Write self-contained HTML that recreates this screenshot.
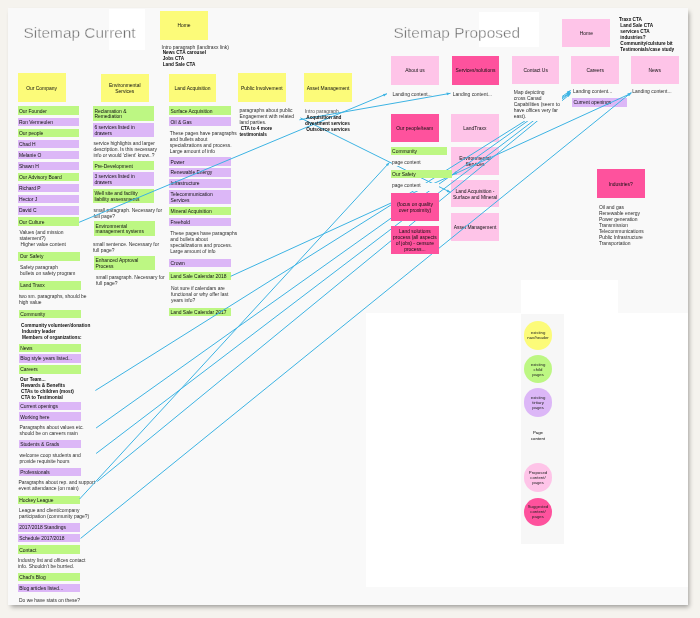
<!DOCTYPE html>
<html><head><meta charset="utf-8"><style>
html,body{margin:0;padding:0;}
body{width:700px;height:618px;background:#f5f3ee;position:relative;overflow:hidden;font-family:"Liberation Sans",sans-serif;}
#canvas{position:absolute;left:7.6px;top:7.7px;width:680px;height:597.8px;background:#f9f9f9;box-shadow:2px 2.5px 4.5px -1px rgba(0,0,0,0.36);overflow:hidden}
#inner{position:absolute;left:-7.6px;top:-7.7px;width:700px;height:618px;will-change:transform}
.b,.r,.t,.title,.circ{position:absolute;box-sizing:border-box;}
.b{display:flex;align-items:center;overflow:hidden;white-space:nowrap;}
.b span{position:relative;top:1px}
.b.c{justify-content:center;text-align:center;}
.t{white-space:nowrap;}
.title{font-size:15.4px;line-height:20px;color:#6a6a6a;white-space:nowrap;z-index:1;-webkit-text-stroke:0.4px #f9f9f9}
.circ{border-radius:50%;display:flex;align-items:center;justify-content:center;text-align:center;font-size:4.3px;line-height:5px;color:#222;z-index:2}
svg{position:absolute;left:0;top:0;z-index:2}
svg line{stroke:#3cb3e3;stroke-width:1}
svg polygon{fill:#3cb3e3}
</style></head><body>
<div id="canvas"><div id="inner">
<div class="r" style="left:109.0px;top:9.0px;width:36.0px;height:41.3px;background:#ffffff;z-index:0"></div>
<div class="r" style="left:479.3px;top:12.0px;width:60.1px;height:35.3px;background:#ffffff;z-index:0"></div>
<div class="r" style="left:520.6px;top:280.0px;width:97.8px;height:33.0px;background:#ffffff;z-index:0"></div>
<div class="r" style="left:365.7px;top:313.0px;width:322.3px;height:274.4px;background:#ffffff;z-index:0"></div>
<div class="r" style="left:521.2px;top:314.0px;width:42.7px;height:230.0px;background:#f7f7f7;z-index:0"></div>
<div class="title" style="left:23.6px;top:22.5px;">Sitemap Current</div>
<div class="title" style="left:393.4px;top:22.5px;">Sitemap Proposed</div>
<div class="b c" style="left:160.0px;top:11.0px;width:48.0px;height:28.5px;background:#fcfb79;z-index:1;font-size:4.95px;line-height:5.9px;color:#111111"><span>Home</span></div>
<div class="b c" style="left:17.5px;top:73.3px;width:48.0px;height:28.4px;background:#fcfb79;z-index:1;font-size:4.95px;line-height:5.9px;color:#111111"><span>Our Company</span></div>
<div class="b c" style="left:101.0px;top:73.6px;width:47.6px;height:28.1px;background:#fcfb79;z-index:1;font-size:4.95px;line-height:5.9px;color:#111111"><span>Environmental<br>Services</span></div>
<div class="b c" style="left:168.7px;top:73.6px;width:47.8px;height:28.1px;background:#fcfb79;z-index:1;font-size:4.95px;line-height:5.9px;color:#111111"><span>Land Acquisition</span></div>
<div class="b c" style="left:237.8px;top:73.3px;width:48.0px;height:28.5px;background:#fcfb79;z-index:1;font-size:4.95px;line-height:5.9px;color:#111111"><span>Public Involvement</span></div>
<div class="b c" style="left:304.1px;top:73.3px;width:48.0px;height:28.5px;background:#fcfb79;z-index:1;font-size:4.95px;line-height:5.9px;color:#111111"><span>Asset Management</span></div>
<div class="t" style="left:161.6px;top:44.6px;font-size:4.95px;line-height:6px;z-index:1;color:#2e2e2e;">Intro paragraph (landtraxx link)</div>
<div class="t" style="left:162.7px;top:50.2px;font-size:4.7px;line-height:6.1px;z-index:1;color:#2e2e2e;font-weight:bold;color:#0e0e0e;">News CTA carousel<br>Jobs CTA<br>Land Sale CTA</div>
<div class="b l" style="left:17.5px;top:106.4px;width:61.6px;height:8.3px;padding-left:1.4px;background:#bdf783;z-index:1;font-size:4.95px;line-height:5.9px;color:#111111"><span>Our Founder</span></div>
<div class="b l" style="left:17.5px;top:117.5px;width:61.6px;height:8.3px;padding-left:1.4px;background:#dcb7f7;z-index:1;font-size:4.95px;line-height:5.9px;color:#111111"><span>Ron Vermeulen</span></div>
<div class="b l" style="left:17.5px;top:128.6px;width:61.6px;height:8.3px;padding-left:1.4px;background:#bdf783;z-index:1;font-size:4.95px;line-height:5.9px;color:#111111"><span>Our people</span></div>
<div class="b l" style="left:17.5px;top:139.7px;width:61.6px;height:8.3px;padding-left:1.4px;background:#dcb7f7;z-index:1;font-size:4.95px;line-height:5.9px;color:#111111"><span>Chad H</span></div>
<div class="b l" style="left:17.5px;top:150.8px;width:61.6px;height:8.3px;padding-left:1.4px;background:#dcb7f7;z-index:1;font-size:4.95px;line-height:5.9px;color:#111111"><span>Melanie O</span></div>
<div class="b l" style="left:17.5px;top:161.9px;width:61.6px;height:8.3px;padding-left:1.4px;background:#dcb7f7;z-index:1;font-size:4.95px;line-height:5.9px;color:#111111"><span>Shawn H</span></div>
<div class="b l" style="left:17.5px;top:173.0px;width:61.6px;height:8.3px;padding-left:1.4px;background:#bdf783;z-index:1;font-size:4.95px;line-height:5.9px;color:#111111"><span>Our Advisory Board</span></div>
<div class="b l" style="left:17.5px;top:184.1px;width:61.6px;height:8.3px;padding-left:1.4px;background:#dcb7f7;z-index:1;font-size:4.95px;line-height:5.9px;color:#111111"><span>Richard P</span></div>
<div class="b l" style="left:17.5px;top:195.2px;width:61.6px;height:8.3px;padding-left:1.4px;background:#dcb7f7;z-index:1;font-size:4.95px;line-height:5.9px;color:#111111"><span>Hector J</span></div>
<div class="b l" style="left:17.5px;top:206.3px;width:61.6px;height:8.3px;padding-left:1.4px;background:#dcb7f7;z-index:1;font-size:4.95px;line-height:5.9px;color:#111111"><span>David C</span></div>
<div class="b l" style="left:17.5px;top:217.4px;width:61.6px;height:8.3px;padding-left:1.4px;background:#bdf783;z-index:1;font-size:4.95px;line-height:5.9px;color:#111111"><span>Our Culture</span></div>
<div class="t" style="left:19.5px;top:230.0px;font-size:4.95px;line-height:6px;z-index:1;color:#2e2e2e;">Values (and mission<br>statement?)</div>
<div class="t" style="left:20.5px;top:242.0px;font-size:4.95px;line-height:6px;z-index:1;color:#2e2e2e;">Higher value content</div>
<div class="b l" style="left:18.4px;top:252.0px;width:61.6px;height:8.6px;padding-left:1.4px;background:#bdf783;z-index:1;font-size:4.95px;line-height:5.9px;color:#111111"><span>Our Safety</span></div>
<div class="t" style="left:20.0px;top:265.0px;font-size:4.95px;line-height:6px;z-index:1;color:#2e2e2e;">Safety paragraph<br>bullets on safety program</div>
<div class="b l" style="left:18.8px;top:281.0px;width:61.8px;height:8.5px;padding-left:1.4px;background:#bdf783;z-index:1;font-size:4.95px;line-height:5.9px;color:#111111"><span>Land Traxx</span></div>
<div class="t" style="left:19.0px;top:294.0px;font-size:4.95px;line-height:6px;z-index:1;color:#2e2e2e;">two sm. paragraphs, should be<br>high value</div>
<div class="b l" style="left:18.8px;top:309.5px;width:61.8px;height:8.5px;padding-left:1.4px;background:#bdf783;z-index:1;font-size:4.95px;line-height:5.9px;color:#111111"><span>Community</span></div>
<div class="t" style="left:21.0px;top:323.0px;font-size:4.7px;line-height:6px;z-index:1;color:#2e2e2e;font-weight:bold;color:#0e0e0e;">Community volunteer/donation</div>
<div class="t" style="left:22.0px;top:329.0px;font-size:4.7px;line-height:6px;z-index:1;color:#2e2e2e;font-weight:bold;color:#0e0e0e;">Industry leader<br>Members of organizations:</div>
<div class="b l" style="left:18.8px;top:343.5px;width:61.8px;height:8.5px;padding-left:1.4px;background:#bdf783;z-index:1;font-size:4.95px;line-height:5.9px;color:#111111"><span>News</span></div>
<div class="b l" style="left:18.8px;top:354.3px;width:61.8px;height:8.3px;padding-left:1.4px;background:#dcb7f7;z-index:1;font-size:4.95px;line-height:5.9px;color:#111111"><span>Blog style years listed...</span></div>
<div class="b l" style="left:18.8px;top:365.0px;width:61.8px;height:8.7px;padding-left:1.4px;background:#bdf783;z-index:1;font-size:4.95px;line-height:5.9px;color:#111111"><span>Careers</span></div>
<div class="t" style="left:20.0px;top:377.0px;font-size:4.7px;line-height:6px;z-index:1;color:#2e2e2e;font-weight:bold;color:#0e0e0e;">Our Team...</div>
<div class="t" style="left:21.0px;top:383.0px;font-size:4.7px;line-height:6px;z-index:1;color:#2e2e2e;font-weight:bold;color:#0e0e0e;">Rewards &amp; Benefits<br>CTAs to children (most)<br>CTA to Testimonial</div>
<div class="b l" style="left:18.8px;top:401.5px;width:61.8px;height:8.3px;padding-left:1.4px;background:#dcb7f7;z-index:1;font-size:4.95px;line-height:5.9px;color:#111111"><span>Current openings</span></div>
<div class="b l" style="left:18.8px;top:412.2px;width:61.8px;height:8.6px;padding-left:1.4px;background:#dcb7f7;z-index:1;font-size:4.95px;line-height:5.9px;color:#111111"><span>Working here</span></div>
<div class="t" style="left:19.5px;top:425.0px;font-size:4.95px;line-height:6px;z-index:3;color:#2e2e2e;background:#f9f9f9;">Paragraphs about values etc.<br>should be on careers main</div>
<div class="b l" style="left:18.8px;top:439.7px;width:61.8px;height:8.7px;padding-left:1.4px;background:#dcb7f7;z-index:1;font-size:4.95px;line-height:5.9px;color:#111111"><span>Students &amp; Grads</span></div>
<div class="t" style="left:19.5px;top:452.5px;font-size:4.95px;line-height:6px;z-index:3;color:#2e2e2e;background:#f9f9f9;">welcome coop students and<br>provide requisite hours</div>
<div class="b l" style="left:18.8px;top:467.8px;width:61.8px;height:8.3px;padding-left:1.4px;background:#dcb7f7;z-index:1;font-size:4.95px;line-height:5.9px;color:#111111"><span>Professionals</span></div>
<div class="t" style="left:18.5px;top:479.5px;font-size:4.95px;line-height:6px;z-index:1;color:#2e2e2e;">Paragraphs about rep. and support<br>event attendance (on main)</div>
<div class="b l" style="left:17.9px;top:495.5px;width:61.7px;height:8.5px;padding-left:1.4px;background:#bdf783;z-index:1;font-size:4.95px;line-height:5.9px;color:#111111"><span>Hockey League</span></div>
<div class="t" style="left:19.0px;top:508.0px;font-size:4.95px;line-height:6px;z-index:1;color:#2e2e2e;">League and client/company<br>participation (community page?)</div>
<div class="b l" style="left:17.9px;top:523.0px;width:61.7px;height:8.8px;padding-left:1.4px;background:#dcb7f7;z-index:1;font-size:4.95px;line-height:5.9px;color:#111111"><span>2017/2018 Standings</span></div>
<div class="b l" style="left:17.9px;top:534.2px;width:61.7px;height:8.3px;padding-left:1.4px;background:#dcb7f7;z-index:1;font-size:4.95px;line-height:5.9px;color:#111111"><span>Schedule 2017/2018</span></div>
<div class="b l" style="left:17.9px;top:545.4px;width:61.7px;height:8.4px;padding-left:1.4px;background:#bdf783;z-index:1;font-size:4.95px;line-height:5.9px;color:#111111"><span>Contact</span></div>
<div class="t" style="left:18.0px;top:558.0px;font-size:4.95px;line-height:6px;z-index:1;color:#2e2e2e;">Industry list and offices contact<br>info. Shouldn't be burried.</div>
<div class="b l" style="left:17.9px;top:573.1px;width:61.7px;height:8.3px;padding-left:1.4px;background:#bdf783;z-index:1;font-size:4.95px;line-height:5.9px;color:#111111"><span>Chad's Blog</span></div>
<div class="b l" style="left:17.9px;top:584.0px;width:61.7px;height:8.3px;padding-left:1.4px;background:#dcb7f7;z-index:1;font-size:4.95px;line-height:5.9px;color:#111111"><span>Blog articles listed...</span></div>
<div class="t" style="left:19.0px;top:597.5px;font-size:4.95px;line-height:6px;z-index:1;color:#2e2e2e;">Do we have stats on these?</div>
<div class="b l" style="left:93.0px;top:106.4px;width:61.3px;height:14.2px;padding-left:1.4px;background:#bdf783;z-index:1;font-size:4.95px;line-height:5.9px;color:#111111"><span>Reclamation &amp;<br>Remediation</span></div>
<div class="b l" style="left:93.0px;top:122.9px;width:61.3px;height:13.7px;padding-left:1.4px;background:#dcb7f7;z-index:1;font-size:4.95px;line-height:5.9px;color:#111111"><span>6 services listed in<br>drawers</span></div>
<div class="t" style="left:93.5px;top:141.0px;font-size:4.95px;line-height:6px;z-index:1;color:#2e2e2e;">service highlights and larger<br>description. Is this necessary<br>info or would 'client' know..?</div>
<div class="b l" style="left:93.0px;top:161.3px;width:61.3px;height:8.4px;padding-left:1.4px;background:#bdf783;z-index:1;font-size:4.95px;line-height:5.9px;color:#111111"><span>Pre-Development</span></div>
<div class="b l" style="left:93.0px;top:172.0px;width:61.3px;height:14.2px;padding-left:1.4px;background:#dcb7f7;z-index:1;font-size:4.95px;line-height:5.9px;color:#111111"><span>3 services listed in<br>drawers</span></div>
<div class="b l" style="left:93.0px;top:189.1px;width:61.3px;height:13.8px;padding-left:1.4px;background:#bdf783;z-index:1;font-size:4.95px;line-height:5.9px;color:#111111"><span>Well site and facility<br>liability assessments</span></div>
<div class="t" style="left:93.5px;top:207.7px;font-size:4.95px;line-height:6px;z-index:1;color:#2e2e2e;">small paragraph. Necessary for<br>full page?</div>
<div class="b l" style="left:94.2px;top:221.4px;width:61.2px;height:14.2px;padding-left:1.4px;background:#bdf783;z-index:1;font-size:4.95px;line-height:5.9px;color:#111111"><span>Environmental<br>management systems</span></div>
<div class="t" style="left:93.0px;top:241.8px;font-size:4.95px;line-height:6px;z-index:1;color:#2e2e2e;">small sentence. Necessary for<br>full page?</div>
<div class="b l" style="left:94.2px;top:256.2px;width:61.2px;height:13.7px;padding-left:1.4px;background:#bdf783;z-index:1;font-size:4.95px;line-height:5.9px;color:#111111"><span>Enhanced Approval<br>Process</span></div>
<div class="t" style="left:96.0px;top:275.4px;font-size:4.95px;line-height:6px;z-index:1;color:#2e2e2e;">small paragraph. Necessary for<br>full page?</div>
<div class="b l" style="left:169.1px;top:106.3px;width:61.8px;height:8.7px;padding-left:1.4px;background:#bdf783;z-index:1;font-size:4.95px;line-height:5.9px;color:#111111"><span>Surface Acquisition</span></div>
<div class="b l" style="left:169.1px;top:117.2px;width:61.8px;height:8.6px;padding-left:1.4px;background:#dcb7f7;z-index:1;font-size:4.95px;line-height:5.9px;color:#111111"><span>Oil &amp; Gas</span></div>
<div class="t" style="left:169.8px;top:130.5px;font-size:4.95px;line-height:6px;z-index:1;color:#2e2e2e;">These pages have paragraphs<br>and bullets about<br>specializations and process.<br>Large amount of info</div>
<div class="b l" style="left:169.1px;top:157.1px;width:61.8px;height:9.2px;padding-left:1.4px;background:#dcb7f7;z-index:1;font-size:4.95px;line-height:5.9px;color:#111111"><span>Power</span></div>
<div class="b l" style="left:169.1px;top:168.1px;width:61.8px;height:8.7px;padding-left:1.4px;background:#dcb7f7;z-index:1;font-size:4.95px;line-height:5.9px;color:#111111"><span>Renewable Energy</span></div>
<div class="b l" style="left:169.1px;top:179.0px;width:61.8px;height:8.8px;padding-left:1.4px;background:#dcb7f7;z-index:1;font-size:4.95px;line-height:5.9px;color:#111111"><span>Infrastructure</span></div>
<div class="b l" style="left:169.1px;top:189.8px;width:61.8px;height:14.2px;padding-left:1.4px;background:#dcb7f7;z-index:1;font-size:4.95px;line-height:5.9px;color:#111111"><span>Telecommunication<br>Services</span></div>
<div class="b l" style="left:169.1px;top:206.7px;width:61.8px;height:8.7px;padding-left:1.4px;background:#bdf783;z-index:1;font-size:4.95px;line-height:5.9px;color:#111111"><span>Mineral Acquisition</span></div>
<div class="b l" style="left:169.1px;top:217.6px;width:61.8px;height:8.5px;padding-left:1.4px;background:#dcb7f7;z-index:1;font-size:4.95px;line-height:5.9px;color:#111111"><span>Freehold</span></div>
<div class="t" style="left:170.3px;top:230.9px;font-size:4.95px;line-height:6px;z-index:1;color:#2e2e2e;">These pages have paragraphs<br>and bullets about<br>specializations and process.<br>Large amount of info</div>
<div class="b l" style="left:169.1px;top:258.5px;width:61.8px;height:8.6px;padding-left:1.4px;background:#dcb7f7;z-index:1;font-size:4.95px;line-height:5.9px;color:#111111"><span>Crown</span></div>
<div class="b l" style="left:169.1px;top:272.2px;width:61.8px;height:8.2px;padding-left:1.4px;background:#bdf783;z-index:1;font-size:4.95px;line-height:5.9px;color:#111111"><span>Land Sale Calendar 2018</span></div>
<div class="t" style="left:171.0px;top:286.2px;font-size:4.95px;line-height:6px;z-index:1;color:#2e2e2e;">Not sure if calendars are<br>functional or why offer last<br>years info?</div>
<div class="b l" style="left:169.1px;top:307.8px;width:61.8px;height:8.7px;padding-left:1.4px;background:#bdf783;z-index:1;font-size:4.95px;line-height:5.9px;color:#111111"><span>Land Sale Calendar 2017</span></div>
<div class="t" style="left:239.4px;top:108.3px;font-size:4.95px;line-height:6px;z-index:1;color:#2e2e2e;">paragraphs about public<br>Engagement with related<br>land parties.</div>
<div class="t" style="left:239.4px;top:126.0px;font-size:4.7px;line-height:6px;z-index:1;color:#2e2e2e;font-weight:bold;color:#0e0e0e;">&nbsp;CTA to 4 more<br>testimonials</div>
<div class="t" style="left:305.0px;top:109.4px;font-size:4.95px;line-height:6px;z-index:1;color:#555;">Intro paragraph</div>
<div class="t" style="left:305.0px;top:115.2px;font-size:4.7px;line-height:6px;z-index:3;color:#2e2e2e;font-weight:bold;color:#0e0e0e;">&nbsp;Acquisition and<br>divestment services<br>&nbsp;Outsource services</div>
<div class="b c" style="left:562.3px;top:19.0px;width:48.0px;height:28.0px;background:#fec4e8;z-index:1;font-size:4.95px;line-height:5.9px;color:#111111"><span>Home</span></div>
<div class="t" style="left:619.0px;top:17.1px;font-size:4.7px;line-height:6px;z-index:1;color:#2e2e2e;font-weight:bold;color:#0e0e0e;">Traxx CTA<br>&nbsp;Land Sale CTA<br>&nbsp;services CTA<br>&nbsp;industries?<br>&nbsp;Community/culsture bit<br>&nbsp;Testimonials/case study</div>
<div class="b c" style="left:391.0px;top:56.0px;width:47.8px;height:28.6px;background:#fec4e8;z-index:1;font-size:4.95px;line-height:5.9px;color:#111111"><span>About us</span></div>
<div class="b c" style="left:451.6px;top:56.0px;width:47.8px;height:28.6px;background:#fe529d;z-index:1;font-size:4.95px;line-height:5.9px;color:#111111"><span>Services/solutions</span></div>
<div class="b c" style="left:512.0px;top:55.7px;width:47.4px;height:28.6px;background:#fec4e8;z-index:1;font-size:4.95px;line-height:5.9px;color:#111111"><span>Contact Us</span></div>
<div class="b c" style="left:571.4px;top:55.7px;width:47.6px;height:28.6px;background:#fec4e8;z-index:1;font-size:4.95px;line-height:5.9px;color:#111111"><span>Careers</span></div>
<div class="b c" style="left:630.9px;top:55.7px;width:47.7px;height:28.6px;background:#fec4e8;z-index:1;font-size:4.95px;line-height:5.9px;color:#111111"><span>News</span></div>
<div class="t" style="left:392.4px;top:92.0px;font-size:4.95px;line-height:6px;z-index:1;color:#2e2e2e;">Landing content...</div>
<div class="t" style="left:452.7px;top:92.0px;font-size:4.95px;line-height:6px;z-index:1;color:#2e2e2e;">Landing content...</div>
<div class="t" style="left:513.8px;top:90.0px;font-size:4.95px;line-height:6px;z-index:3;color:#2e2e2e;background:#f9f9f9;width:48.5px;height:31px;">Map depicting<br>cross Canad<br>Capabilities (seem to<br>have offices very far<br>east).</div>
<div class="t" style="left:572.9px;top:89.4px;font-size:4.95px;line-height:6px;z-index:1;color:#2e2e2e;">Landing content...</div>
<div class="b l" style="left:572.0px;top:98.0px;width:54.6px;height:8.6px;padding-left:1.4px;background:#dcb7f7;z-index:1;font-size:4.95px;line-height:5.9px;color:#111111"><span>Current openings</span></div>
<div class="t" style="left:632.3px;top:89.4px;font-size:4.95px;line-height:6px;z-index:1;color:#2e2e2e;">Landing content...</div>
<div class="b c" style="left:390.7px;top:113.5px;width:47.9px;height:28.4px;background:#fe529d;z-index:3;font-size:4.95px;line-height:5.9px;color:#111111"><span>Our people/team</span></div>
<div class="b c" style="left:451.0px;top:113.5px;width:47.9px;height:28.4px;background:#fec4e8;z-index:1;font-size:4.95px;line-height:5.9px;color:#111111"><span>LandTraxx</span></div>
<div class="b l" style="left:390.7px;top:146.6px;width:56.5px;height:8.3px;padding-left:1.4px;background:#bdf783;z-index:3;font-size:4.95px;line-height:5.9px;color:#111111"><span>Community</span></div>
<div class="t" style="left:392.0px;top:160.0px;font-size:4.95px;line-height:6px;z-index:3;color:#2e2e2e;background:#f9f9f9;">page content</div>
<div class="b l" style="left:390.7px;top:170.0px;width:61.6px;height:8.2px;padding-left:1.4px;background:#bdf783;z-index:3;font-size:4.95px;line-height:5.9px;color:#111111"><span>Our Safety</span></div>
<div class="t" style="left:392.0px;top:183.0px;font-size:4.95px;line-height:6px;z-index:3;color:#2e2e2e;background:#f9f9f9;width:47px;height:8px;">page content</div>
<div class="b c" style="left:451.0px;top:146.6px;width:47.9px;height:28.4px;background:#fec4e8;z-index:1;font-size:4.95px;line-height:5.9px;color:#111111"><span>Environmental<br>Services</span></div>
<div class="b c" style="left:390.7px;top:192.7px;width:48.4px;height:28.5px;background:#fe529d;z-index:3;font-size:4.95px;line-height:5.9px;color:#111111"><span>(focus on quality<br>over proximity)</span></div>
<div class="b c" style="left:451.0px;top:179.7px;width:48.0px;height:27.7px;background:#fec4e8;z-index:1;font-size:4.95px;line-height:5.9px;color:#111111"><span>Land Acquisition -<br>Surface and Mineral</span></div>
<div class="b c" style="left:390.7px;top:225.6px;width:48.4px;height:28.4px;background:#fe529d;z-index:3;font-size:4.95px;line-height:5.9px;color:#111111"><span>Land solutions<br>process (all aspects<br>of jobs) - censure<br>process...</span></div>
<div class="b c" style="left:451.0px;top:212.6px;width:48.0px;height:28.5px;background:#fec4e8;z-index:1;font-size:4.95px;line-height:5.9px;color:#111111"><span>Asset Management</span></div>
<div class="b c" style="left:596.8px;top:169.4px;width:47.9px;height:28.5px;background:#fe529d;z-index:1;font-size:4.95px;line-height:5.9px;color:#111111"><span>Industries?</span></div>
<div class="t" style="left:598.9px;top:205.0px;font-size:4.95px;line-height:6px;z-index:1;color:#2e2e2e;">Oil and gas<br>Renewable energy<br>Power generation<br>Transmission<br>Telecommunications<br>Public Infrastructure<br>Transportation</div>
<div class="circ" style="left:523.8px;top:321.1px;width:28.5px;height:28.5px;background:#fcfb79"><span>existing<br>nav/header</span></div>
<div class="circ" style="left:523.8px;top:354.9px;width:28.5px;height:28.5px;background:#bdf783"><span>existing<br>child<br>pages</span></div>
<div class="circ" style="left:523.8px;top:388.4px;width:28.5px;height:28.5px;background:#dcb7f7"><span>existing<br>tirtiary<br>pages</span></div>
<div class="t" style="left:518px;top:430px;width:40px;text-align:center;font-size:4.3px;line-height:5.9px;z-index:2">Page<br>content</div>
<div class="circ" style="left:523.7px;top:463.4px;width:28.6px;height:28.6px;background:#fec4e8"><span>Proposed<br>content/<br>pages</span></div>
<div class="circ" style="left:523.7px;top:497.5px;width:28.6px;height:28.6px;background:#fe529d"><span>Suggested<br>content/<br>pages</span></div>
<svg width="700" height="618" viewBox="0 0 700 618">
<line x1="95.4" y1="390.5" x2="570.7" y2="92.2"/>
<polygon points="570.7,92.2 568.2,95.4 566.7,93.0"/>
<line x1="96.1" y1="428" x2="570.7" y2="90.4"/>
<polygon points="570.7,90.4 568.4,93.7 566.8,91.5"/>
<line x1="96.1" y1="453.5" x2="570.7" y2="92.4"/>
<polygon points="570.7,92.4 568.5,95.8 566.8,93.6"/>
<line x1="97.2" y1="481.5" x2="570.7" y2="93.6"/>
<polygon points="570.7,93.6 568.6,97.1 566.9,94.9"/>
<line x1="79.6" y1="499" x2="389.5" y2="162.4"/>
<polygon points="389.5,162.4 388.0,166.1 385.9,164.2"/>
<line x1="80.6" y1="538.4" x2="631.4" y2="92.4"/>
<polygon points="631.4,92.4 629.3,95.9 627.6,93.7"/>
<line x1="230.7" y1="276.3" x2="631.4" y2="93.2"/>
<polygon points="631.4,93.2 628.5,96.1 627.4,93.5"/>
<line x1="79.1" y1="222.3" x2="387" y2="93.7"/>
<polygon points="387.0,93.7 384.0,96.5 383.0,93.9"/>
<line x1="299.4" y1="119.8" x2="450.5" y2="93.3"/>
<polygon points="450.5,93.3 447.0,95.3 446.5,92.6"/>
<line x1="300.4" y1="117.9" x2="450.6" y2="192.4"/>
<polygon points="450.6,192.4 446.6,192.0 447.8,189.5"/>
<polygon points="452.8,174.4 455.8,171.3 457.1,174.2"/>
</svg>
</div></div>
</body></html>
